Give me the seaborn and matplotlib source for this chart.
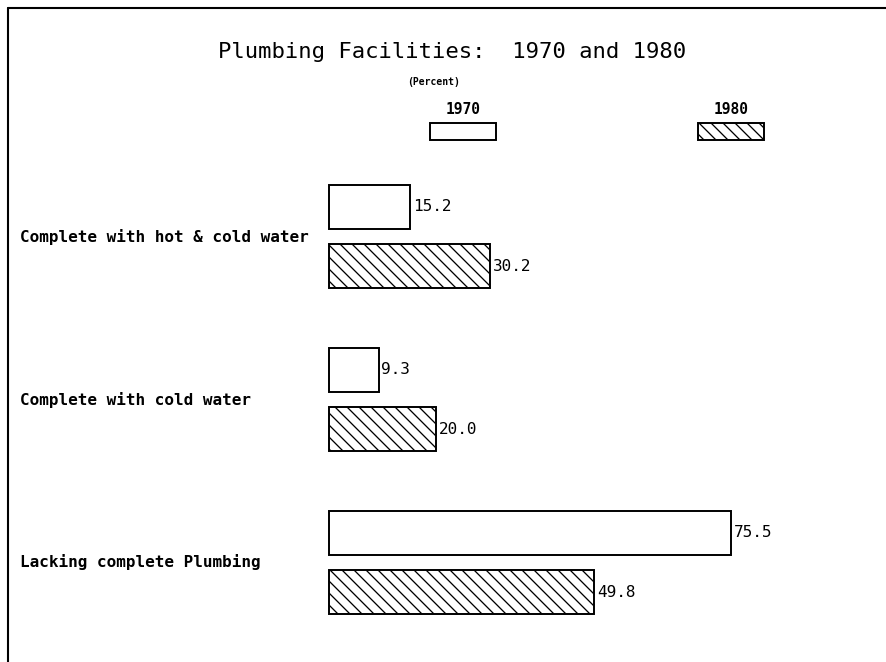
import pandas as pd
import matplotlib
matplotlib.use('Agg')
import matplotlib.pyplot as plt
from matplotlib.patches import Rectangle
from matplotlib.lines import Line2D
import matplotlib.transforms as mtransforms
import seaborn as sns

# data
categories = ['Complete with hot & cold water', 'Complete with cold water', 'Lacking complete Plumbing']
years = ['1970', '1980']
pct_1970 = [15.2, 9.3, 75.5]
pct_1980 = [30.2, 20.0, 49.8]

df = pd.DataFrame({
    'category': categories * 2,
    'year': [years[0]] * 3 + [years[1]] * 3,
    'percent': pct_1970 + pct_1980,
})

sns.set_theme(style='white')
plt.rcParams['font.family'] = ['DejaVu Sans Mono']
plt.rcParams['text.color'] = 'black'
plt.rcParams['hatch.linewidth'] = 1.3

# drawn at 72 dpi so the hatch spacing comes out near the original (~12px)
DPI = 72
S = 100 / DPI
W, H = 886, 662
fig = plt.figure(figsize=(W / DPI, H / DPI), dpi=DPI)
fig.patch.set_facecolor('white')

def fx(px):
    return px / W

def fy(py):
    return 1 - py / H

# axes placed so 0% sits at x=329px and 100% at 862px
ax = fig.add_axes([fx(329), fy(644), 533 / W, 489 / H])
sns.barplot(data=df, x='percent', y='category', hue='year', orient='h',
            palette=['white', 'white'], edgecolor='black', linewidth=1.4 * S,
            width=0.724, gap=0.25, legend=False, ax=ax, saturation=1)
ax.set_xlim(0, 100)
ax.set_ylim(2.5, -0.5)
ax.axis('off')

for bar in ax.containers[1]:
    bar.set_hatch('\\\\')
for cont in ax.containers:
    for bar in cont:
        bar.set_clip_on(False)
    ax.bar_label(cont, fmt='%.1f', padding=2 * S, fontsize=11.5 * S, color='black')

# category labels on the left
trans = mtransforms.blended_transform_factory(fig.transFigure, ax.transData)
for i, cat in enumerate(categories):
    ax.text(fx(20), i, cat, transform=trans, ha='left', va='center',
            fontsize=11.5 * S, fontweight='bold', color='black')

# title
fig.text(fx(452), fy(52), 'Plumbing Facilities:  1970 and 1980', ha='center', va='center', fontsize=16 * S)
fig.text(fx(434), fy(82), '(Percent)', ha='center', va='center', fontsize=7 * S, fontweight='bold')

# legend drawn by hand, labels above boxes
for yr, cx, hatch in [('1970', 463, ''), ('1980', 731, '\\\\')]:
    fig.text(fx(cx), fy(109), yr, ha='center', va='center', fontsize=10.5 * S, fontweight='bold')
    fig.patches.append(Rectangle((fx(cx - 33), fy(140)), 66 / W, 17 / H, transform=fig.transFigure,
                                 facecolor='white', edgecolor='black', linewidth=1.4 * S, hatch=hatch))

# frame lines of the scanned page
fig.lines.append(Line2D([fx(8), 1], [fy(8), fy(8)], transform=fig.transFigure, color='black', linewidth=1.5 * S))
fig.lines.append(Line2D([fx(8), fx(8)], [fy(8), 0], transform=fig.transFigure, color='black', linewidth=1.5 * S))

fig.savefig('out.png', dpi=DPI)
